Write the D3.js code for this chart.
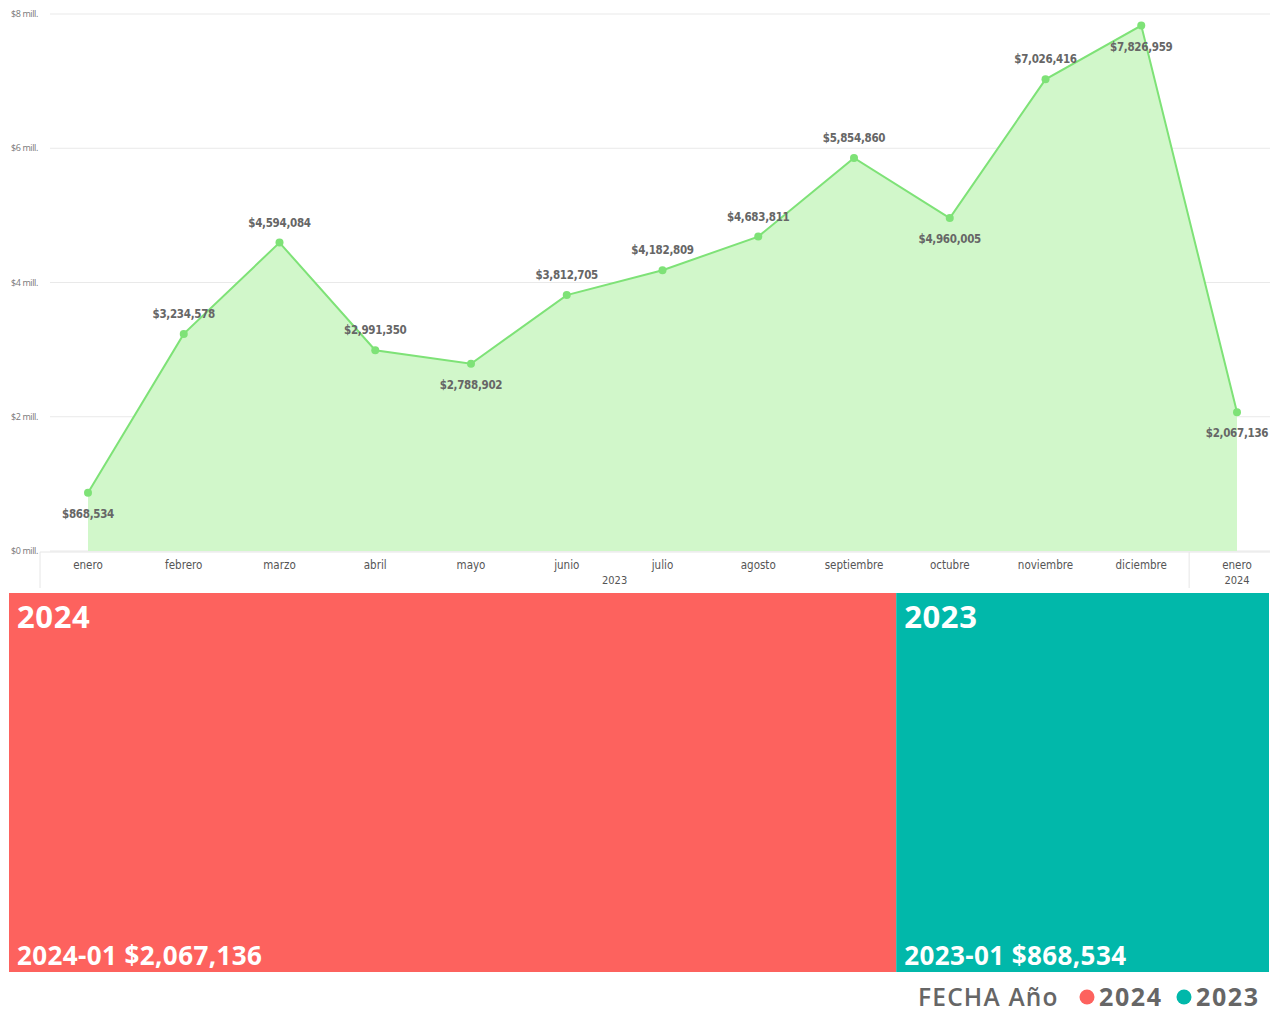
<!DOCTYPE html>
<html>
<head>
<meta charset="utf-8">
<script src="https://cdn.jsdelivr.net/npm/d3@7"></script>
<style>
  body { margin: 0; background: #fff; }
  svg { display: block; }
</style>
</head>
<body>
<svg id="chart" width="1275" height="1014"></svg>
<script>
// monthly totals
var months = ["enero", "febrero", "marzo", "abril", "mayo", "junio", "julio", "agosto", "septiembre", "octubre", "noviembre", "diciembre", "enero"]
var monthYear = ["2023", "2023", "2023", "2023", "2023", "2023", "2023", "2023", "2023", "2023", "2023", "2023", "2024"]
var values = [868534, 3234578, 4594084, 2991350, 2788902, 3812705, 4182809, 4683811, 5854860, 4960005, 7026416, 7826959, 2067136]
// label above (-1) or below (1) the point
var labelSide = [1, -1, -1, -1, 1, -1, -1, -1, -1, 1, -1, 1, 1]
var yTicks = [0, 2000000, 4000000, 6000000, 8000000]

// treemap data
var years = ["2024", "2023"]
var yearValues = [2067136, 868534]
var yearDetail = ["2024-01 $2,067,136", "2023-01 $868,534"]
var yearColors = ["#FD625E", "#01B8AA"]

var svg = d3.select("#chart")
var fmt = d3.format("$,")

var x = d3.scalePoint()
  .domain(d3.range(months.length))
  .range([88, 1237])

var y = d3.scaleLinear()
  .domain([0, 8000000])
  .range([551, 14])

// gridlines + y labels
svg.append("g")
  .selectAll("line")
  .data(yTicks)
  .enter()
  .append("line")
    .attr("x1", 50)
    .attr("x2", 1270)
    .attr("y1", function (d) { return y(d) })
    .attr("y2", function (d) { return y(d) })
    .style("stroke", "#e9e9e9")
    .style("stroke-width", 1)

svg.append("g")
  .selectAll("text")
  .data(yTicks)
  .enter()
  .append("text")
    .attr("x", 11)
    .attr("y", function (d) { return y(d) + 3 })
    .text(function (d) { return "$" + (d / 1000000) + " mill." })
    .style("font-family", "'Open Sans', sans-serif")
    .style("font-size", "9px")
    .style("letter-spacing", "-0.4px")
    .style("fill", "#777")

// area + line
var area = d3.area()
  .x(function (d, i) { return x(i) })
  .y0(y(0))
  .y1(function (d) { return y(d) })

var line = d3.line()
  .x(function (d, i) { return x(i) })
  .y(function (d) { return y(d) })

svg.append("path")
  .datum(values)
  .attr("d", area)
  .style("fill", "#D1F7CA")

svg.append("path")
  .datum(values)
  .attr("d", line)
  .style("fill", "none")
  .style("stroke", "#7EE277")
  .style("stroke-width", 2)

svg.append("g")
  .selectAll("circle")
  .data(values)
  .enter()
  .append("circle")
    .attr("cx", function (d, i) { return x(i) })
    .attr("cy", function (d) { return y(d) })
    .attr("r", 4)
    .style("fill", "#7EE277")

// data labels
svg.append("g")
  .selectAll("text")
  .data(values)
  .enter()
  .append("text")
    .attr("x", function (d, i) { return x(i) })
    .attr("y", function (d, i) { return y(d) + (labelSide[i] < 0 ? -16 : 25) })
    .attr("text-anchor", "middle")
    .text(function (d) { return fmt(d) })
    .style("font-family", "'DejaVu Sans Condensed', 'DejaVu Sans', sans-serif")
    .style("font-weight", "bold")
    .style("font-size", "11.5px")
    .style("letter-spacing", "-0.3px")
    .style("fill", "#666")

// x axis
svg.append("line")
  .attr("x1", 40).attr("x2", 1270)
  .attr("y1", 552).attr("y2", 552)
  .style("stroke", "#e6e6e6")

var sepX = [40, (x(11) + x(12)) / 2]
svg.append("g")
  .selectAll("line")
  .data(sepX)
  .enter()
  .append("line")
    .attr("x1", function (d) { return d })
    .attr("x2", function (d) { return d })
    .attr("y1", 552)
    .attr("y2", 588)
    .style("stroke", "#e6e6e6")

svg.append("g")
  .selectAll("text")
  .data(months)
  .enter()
  .append("text")
    .attr("x", function (d, i) { return x(i) })
    .attr("y", 569)
    .attr("text-anchor", "middle")
    .text(function (d) { return d })
    .style("font-family", "'DejaVu Sans Condensed', 'DejaVu Sans', sans-serif")
    .style("font-size", "11.5px")
    .style("fill", "#555")

// year labels, centered on each year's months
var yearGroups = d3.groups(d3.range(months.length), function (i) { return monthYear[i] })
svg.append("g")
  .selectAll("text")
  .data(yearGroups)
  .enter()
  .append("text")
    .attr("x", function (d) { return (x(d[1][0]) + x(d[1][d[1].length - 1])) / 2 })
    .attr("y", 584)
    .attr("text-anchor", "middle")
    .text(function (d) { return d[0] })
    .style("font-family", "'DejaVu Sans Condensed', 'DejaVu Sans', sans-serif")
    .style("font-size", "11px")
    .style("fill", "#555")

// treemap
var root = d3.hierarchy({ children: years.map(function (k, i) { return { name: k, value: yearValues[i], detail: yearDetail[i], color: yearColors[i] } }) })
  .sum(function (d) { return d.value || 0 })

d3.treemap()
  .size([1260, 379])
  .tile(d3.treemapSliceDice)
  .paddingInner(0)(root)

var cells = svg.append("g")
  .attr("transform", "translate(9,593)")
  .selectAll("g")
  .data(root.leaves())
  .enter()
  .append("g")
    .attr("transform", function (d) { return "translate(" + d.x0 + "," + d.y0 + ")" })

cells.append("rect")
  .attr("width", function (d) { return d.x1 - d.x0 })
  .attr("height", function (d) { return d.y1 - d.y0 })
  .style("fill", function (d) { return d.data.color })

cells.append("text")
  .attr("x", 8)
  .attr("y", 35)
  .text(function (d) { return d.data.name })
  .style("font-family", "'Open Sans', sans-serif")
  .style("font-weight", "bold")
  .style("font-size", "31px")
  .style("letter-spacing", "0.6px")
  .style("fill", "#fff")

cells.append("text")
  .attr("x", 8)
  .attr("y", function (d) { return d.y1 - d.y0 - 7 })
  .text(function (d) { return d.data.detail })
  .style("font-family", "'Open Sans', sans-serif")
  .style("font-weight", "bold")
  .style("font-size", "26px")
  .style("letter-spacing", "0.4px")
  .style("fill", "#fff")

// legend
var legend = svg.append("g").attr("transform", "translate(918,1006)")
legend.append("text")
  .attr("x", 0).attr("y", 0)
  .text("FECHA Año")
  .style("font-family", "'Open Sans', sans-serif")
  .style("font-weight", 600)
  .style("font-size", "24.5px")
  .style("letter-spacing", "1.2px")
  .style("fill", "#666")

var legendX = [169, 266]
years.forEach(function (k, i) {
  legend.append("circle")
    .attr("cx", legendX[i])
    .attr("cy", -9)
    .attr("r", 7.5)
    .style("fill", yearColors[i])
  legend.append("text")
    .attr("x", legendX[i] + 12)
    .attr("y", 0)
    .text(k)
    .style("font-family", "'Open Sans', sans-serif")
    .style("font-weight", "bold")
    .style("font-size", "25px")
    .style("letter-spacing", "1.6px")
    .style("fill", "#666")
})
</script>
</body>
</html>
